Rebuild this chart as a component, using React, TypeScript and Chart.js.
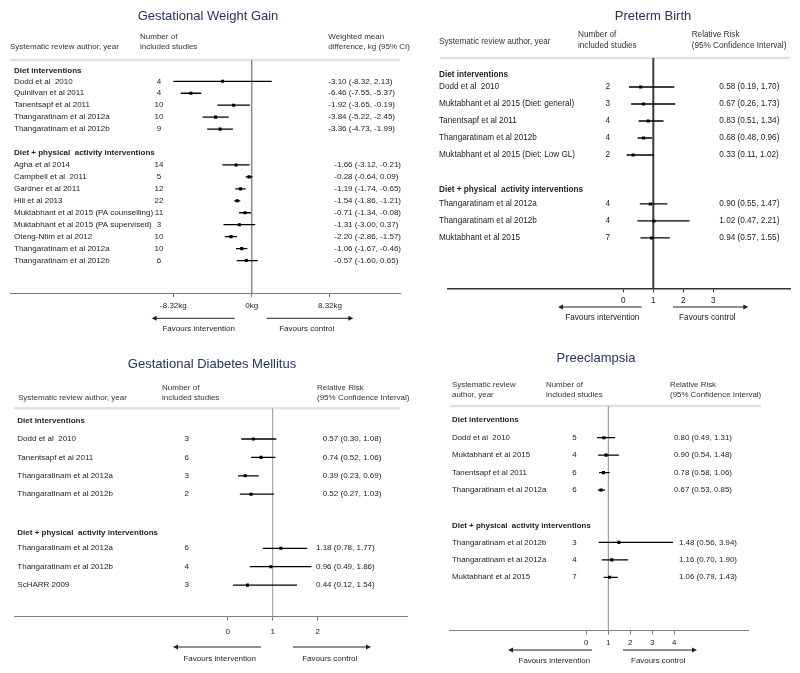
import React, { useEffect, useRef } from "react";
import { Chart, registerables } from "chart.js";

Chart.register(...registerables);

// ---------- shared labels ----------
const groupLabels = ["Diet interventions", "Diet + physical  activity interventions"];

// ---------- Gestational Weight Gain ----------
const gwgStudies = [
  "Dodd et al  2010",
  "Quinlivan et al 2011",
  "Tanentsapf et al 2011",
  "Thangaratinam et al 2012a",
  "Thangaratinam et al 2012b",
  "Agha et al 2014",
  "Campbell et al  2011",
  "Gardner et al 2011",
  "Hill et al 2013",
  "Muktabhant et al 2015 (PA counselling)",
  "Muktabhant et al 2015 (PA supervised)",
  "Oteng-Ntim et al 2012",
  "Thangaratinam et al 2012a",
  "Thangaratinam et al 2012b",
];
const gwgN = [4, 4, 10, 10, 9, 14, 5, 12, 22, 11, 3, 10, 10, 6];
const gwgEst = [-3.1, -6.46, -1.92, -3.84, -3.36, -1.66, -0.28, -1.19, -1.54, -0.71, -1.31, -2.2, -1.06, -0.57];
const gwgLo = [-8.32, -7.55, -3.65, -5.22, -4.73, -3.12, -0.64, -1.74, -1.86, -1.34, -3.0, -2.86, -1.67, -1.6];
const gwgHi = [2.13, -5.37, -0.19, -2.45, -1.99, -0.21, 0.09, -0.65, -1.21, -0.08, 0.37, -1.57, -0.46, 0.65];
const gwgGroups = [5, 9];
const gwgTicks = [-8.32, 0, 8.32];
const gwgTickLabels = ["-8.32kg", "0kg", "8.32kg"];

// ---------- Preterm Birth ----------
const ptbStudies = [
  "Dodd et al  2010",
  "Muktabhant et al 2015 (Diet: general)",
  "Tanentsapf et al 2011",
  "Thangaratinam et al 2012b",
  "Muktabhant et al 2015 (Diet: Low GL)",
  "Thangaratinam et al 2012a",
  "Thangaratinam et al 2012b",
  "Muktabhant et al 2015",
];
const ptbN = [2, 3, 4, 4, 2, 4, 4, 7];
const ptbEst = [0.58, 0.67, 0.83, 0.68, 0.33, 0.9, 1.02, 0.94];
const ptbLo = [0.19, 0.26, 0.51, 0.48, 0.11, 0.55, 0.47, 0.57];
const ptbHi = [1.7, 1.73, 1.34, 0.96, 1.02, 1.47, 2.21, 1.55];
const ptbGroups = [5, 3];
const ptbTicks = [0, 1, 2, 3];
const ptbTickLabels = ["0", "1", "2", "3"];

// ---------- Gestational Diabetes Mellitus ----------
const gdmStudies = [
  "Dodd et al  2010",
  "Tanentsapf et al 2011",
  "Thangaratinam et al 2012a",
  "Thangaratinam et al 2012b",
  "Thangaratinam et al 2012a",
  "Thangaratinam et al 2012b",
  "ScHARR 2009",
];
const gdmN = [3, 6, 3, 2, 6, 4, 3];
const gdmEst = [0.57, 0.74, 0.39, 0.52, 1.18, 0.96, 0.44];
const gdmLo = [0.3, 0.52, 0.23, 0.27, 0.78, 0.49, 0.12];
const gdmHi = [1.08, 1.06, 0.69, 1.03, 1.77, 1.86, 1.54];
const gdmGroups = [4, 3];
const gdmTicks = [0, 1, 2];
const gdmTickLabels = ["0", "1", "2"];

// ---------- Preeclampsia ----------
const peStudies = [
  "Dodd et al  2010",
  "Muktabhant et al 2015",
  "Tanentsapf et al 2011",
  "Thangaratinam et al 2012a",
  "Thangaratinam et al 2012b",
  "Thangaratinam et al 2012a",
  "Muktabhant et al 2015",
];
const peN = [5, 4, 6, 6, 3, 4, 7];
const peEst = [0.8, 0.9, 0.78, 0.67, 1.48, 1.16, 1.06];
const peLo = [0.49, 0.54, 0.58, 0.53, 0.56, 0.7, 0.79];
const peHi = [1.31, 1.48, 1.06, 0.85, 3.94, 1.9, 1.43];
const peGroups = [4, 3];
const peTicks = [0, 1, 2, 3, 4];
const peTickLabels = ["0", "1", "2", "3", "4"];

// ---------- layout / style ----------
const FONT = '"Liberation Sans", Arial, sans-serif';
const TITLE_COLOR = "#27335c";
const TEXT_COLOR = "#222";
const AXIS_H = 22;

type HeaderText = { text: string; x: number; y: number };
type Spec = {
  key: string;
  x: number; y: number; w: number; h: number;
  title: string; titleX: number; titleY: number;
  font: number;
  studies: string[]; n: number[]; est: number[]; lo: number[]; hi: number[];
  groups: number[];
  ticks: number[]; tickLabels: string[];
  refValue: number; refPx: number; ppu: number;
  areaL: number; areaR: number; areaT: number; areaB: number;
  row0: number; rowStep: number; groupGap: number; headerLead: number[];
  nameX: number; numX: number; valX: number[];
  headers: HeaderText[];
  sepL: number; sepR: number;
  axisColor: string; axisWidth: number; refColor: string; refWidth: number;
  tickPad: number;
  arrowY: number; arrowL: [number, number]; arrowR: [number, number];
  favY: number; favL: number; favR: number;
};

const specs: Spec[] = [
  {
    key: "gwg", x: 0, y: 0, w: 420, h: 340,
    title: "Gestational Weight Gain", titleX: 208, titleY: 16,
    font: 8,
    studies: gwgStudies, n: gwgN, est: gwgEst, lo: gwgLo, hi: gwgHi, groups: gwgGroups,
    ticks: gwgTicks, tickLabels: gwgTickLabels,
    refValue: 0, refPx: 251.7, ppu: 9.41,
    areaL: 10, areaR: 400, areaT: 60, areaB: 293.3,
    row0: 81.3, rowStep: 11.95, groupGap: 2, headerLead: [0.88, 0.98],
    nameX: 14, numX: 159, valX: [328.3, 334.3],
    headers: [
      { text: "Systematic review author, year", x: 10, y: 46.7 },
      { text: "Number of", x: 140, y: 36.7 },
      { text: "included studies", x: 140, y: 46.7 },
      { text: "Weighted mean", x: 328.3, y: 36.7 },
      { text: "difference, kg (95% CI)", x: 328.3, y: 46.7 },
    ],
    sepL: 10, sepR: 400,
    axisColor: "#7a7a7a", axisWidth: 1, refColor: "#8a8a8a", refWidth: 1.5,
    tickPad: 4,
    arrowY: 318.3, arrowL: [-17, -100], arrowR: [15, 101.6],
    favY: 329, favL: -53, favR: 55,
  },
  {
    key: "ptb", x: 400, y: 0, w: 400, h: 340,
    title: "Preterm Birth", titleX: 253, titleY: 16,
    font: 8.2,
    studies: ptbStudies, n: ptbN, est: ptbEst, lo: ptbLo, hi: ptbHi, groups: ptbGroups,
    ticks: ptbTicks, tickLabels: ptbTickLabels,
    refValue: 1, refPx: 253.3, ppu: 30,
    areaL: 48, areaR: 390, areaT: 58, areaB: 288.3,
    row0: 87, rowStep: 17, groupGap: 1.88, headerLead: [0.7, 0.84],
    nameX: 39, numX: 207.7, valX: [319.3, 319.3],
    headers: [
      { text: "Systematic review author, year", x: 39, y: 41.7 },
      { text: "Number of", x: 178, y: 34.3 },
      { text: "included studies", x: 178, y: 46 },
      { text: "Relative Risk", x: 291.7, y: 34.3 },
      { text: "(95% Confidence Interval)", x: 291.7, y: 46 },
    ],
    sepL: 40, sepR: 390,
    axisColor: "#333", axisWidth: 1.5, refColor: "#3a3a3a", refWidth: 2,
    tickPad: 4,
    arrowY: 307, arrowL: [-11.6, -95.3], arrowR: [19.7, 95],
    favY: 318, favL: -51, favR: 54,
  },
  {
    key: "gdm", x: 0, y: 340, w: 420, h: 333,
    title: "Gestational Diabetes Mellitus", titleX: 212, titleY: 24,
    font: 8,
    studies: gdmStudies, n: gdmN, est: gdmEst, lo: gdmLo, hi: gdmHi, groups: gdmGroups,
    ticks: gdmTicks, tickLabels: gdmTickLabels,
    refValue: 1, refPx: 272.7, ppu: 45,
    areaL: 14, areaR: 407, areaT: 68.3, areaB: 276.7,
    row0: 99, rowStep: 18.4, groupGap: 1.94, headerLead: [0.98, 0.82],
    nameX: 17.3, numX: 186.7, valX: [322.7, 316],
    headers: [
      { text: "Systematic review author, year", x: 18, y: 57.3 },
      { text: "Number of", x: 162, y: 47.7 },
      { text: "included studies", x: 162, y: 58 },
      { text: "Relative Risk", x: 317, y: 47.7 },
      { text: "(95% Confidence Interval)", x: 317, y: 58 },
    ],
    sepL: 14, sepR: 400,
    axisColor: "#808080", axisWidth: 1, refColor: "#939393", refWidth: 1,
    tickPad: 6,
    arrowY: 307, arrowL: [-11.7, -99.7], arrowR: [20.3, 98.3],
    favY: 319, favL: -53, favR: 57,
  },
  {
    key: "pe", x: 400, y: 340, w: 400, h: 333,
    title: "Preeclampsia", titleX: 196, titleY: 18,
    font: 7.9,
    studies: peStudies, n: peN, est: peEst, lo: peLo, hi: peHi, groups: peGroups,
    ticks: peTicks, tickLabels: peTickLabels,
    refValue: 1, refPx: 208.3, ppu: 22,
    areaL: 49, areaR: 348, areaT: 66, areaB: 290.7,
    row0: 97.7, rowStep: 17.45, groupGap: 2, headerLead: [1.0, 0.97],
    nameX: 52, numX: 174.5, valX: [274, 279],
    headers: [
      { text: "Systematic review", x: 52, y: 45 },
      { text: "author, year", x: 52, y: 55 },
      { text: "Number of", x: 146, y: 45 },
      { text: "included studies", x: 146, y: 55 },
      { text: "Relative Risk", x: 270, y: 45 },
      { text: "(95% Confidence Interval)", x: 270, y: 55 },
    ],
    sepL: 50, sepR: 361,
    axisColor: "#808080", axisWidth: 1, refColor: "#8a8a8a", refWidth: 1,
    tickPad: 3,
    arrowY: 310, arrowL: [-16.3, -100.3], arrowR: [14.7, 88.7],
    favY: 321, favL: -54, favR: 50,
  },
];

function rowPositions(groups: number[], gap: number): number[] {
  const pos: number[] = [];
  let idx = 0;
  groups.forEach((g, gi) => {
    for (let k = 0; k < g; k++) pos.push(idx + k + gi * gap);
    idx += g;
  });
  return pos;
}

const fmt = (v: number) => v.toFixed(2);
const font = (size: number, bold = false) => `${bold ? "bold " : ""}${size}px ${FONT}`;

function drawArrow(ctx: CanvasRenderingContext2D, x1: number, x2: number, y: number) {
  const dir = Math.sign(x2 - x1);
  ctx.beginPath();
  ctx.moveTo(x1, y);
  ctx.lineTo(x2 - dir * 4, y);
  ctx.stroke();
  ctx.beginPath();
  ctx.moveTo(x2, y);
  ctx.lineTo(x2 - dir * 5, y - 2.5);
  ctx.lineTo(x2 - dir * 5, y + 2.5);
  ctx.closePath();
  ctx.fill();
}

function buildChart(canvas: HTMLCanvasElement, s: Spec) {
  const rows = rowPositions(s.groups, s.groupGap);
  const xMin = s.refValue - (s.refPx - s.areaL) / s.ppu;
  const xMax = s.refValue + (s.areaR - s.refPx) / s.ppu;
  const yMin = -(s.row0 - s.areaT) / s.rowStep;
  const yMax = yMin + (s.areaB - s.areaT) / s.rowStep;

  const pointDs = {
    label: "estimate",
    data: s.est.map((v, i) => ({ x: v, y: rows[i] })),
    pointStyle: "rect",
    pointRadius: 2.2,
    backgroundColor: "#000",
    borderColor: "#000",
    borderWidth: 0,
    showLine: false,
  };
  const ciDs = s.lo.map((lo, i) => ({
    label: "ci" + i,
    data: [
      { x: lo, y: rows[i] },
      { x: s.hi[i], y: rows[i] },
    ],
    showLine: true,
    borderColor: "#000",
    borderWidth: 1.3,
    pointRadius: 0,
  }));

  const overlay = {
    id: "forestOverlay",
    beforeDatasetsDraw(chart: any) {
      const { ctx, chartArea } = chart;
      const xs = chart.scales.x;
      ctx.save();
      ctx.strokeStyle = "#e2e2e2";
      ctx.lineWidth = 2.5;
      ctx.beginPath();
      ctx.moveTo(s.sepL, chartArea.top);
      ctx.lineTo(s.sepR, chartArea.top);
      ctx.stroke();
      const px = xs.getPixelForValue(s.refValue);
      ctx.strokeStyle = s.refColor;
      ctx.lineWidth = s.refWidth;
      ctx.beginPath();
      ctx.moveTo(px, chartArea.top);
      ctx.lineTo(px, chartArea.bottom);
      ctx.stroke();
      ctx.restore();
    },
    afterDraw(chart: any) {
      const { ctx } = chart;
      const xs = chart.scales.x;
      const ys = chart.scales.y;
      const refPx = xs.getPixelForValue(s.refValue);
      ctx.save();
      ctx.textBaseline = "middle";
      // title
      ctx.fillStyle = TITLE_COLOR;
      ctx.font = font(13);
      ctx.textAlign = "center";
      ctx.fillText(s.title, s.titleX, s.titleY);
      // column headers
      ctx.fillStyle = "#333";
      ctx.font = font(s.font);
      ctx.textAlign = "left";
      s.headers.forEach((h) => ctx.fillText(h.text, h.x, h.y));
      // group headers and rows
      let start = 0;
      s.groups.forEach((g, gi) => {
        const y = ys.getPixelForValue(rows[start] - s.headerLead[gi]);
        ctx.fillStyle = TEXT_COLOR;
        ctx.font = font(s.font, true);
        ctx.textAlign = "left";
        ctx.fillText(groupLabels[gi], s.nameX, y);
        ctx.font = font(s.font);
        for (let k = start; k < start + g; k++) {
          const ry = ys.getPixelForValue(rows[k]);
          ctx.textAlign = "left";
          ctx.fillText(s.studies[k], s.nameX, ry);
          ctx.textAlign = "center";
          ctx.fillText(String(s.n[k]), s.numX, ry);
          ctx.textAlign = "left";
          ctx.fillText(`${fmt(s.est[k])} (${fmt(s.lo[k])}, ${fmt(s.hi[k])})`, s.valX[gi], ry);
        }
        start += g;
      });
      // arrows
      ctx.strokeStyle = "#222";
      ctx.fillStyle = "#222";
      ctx.lineWidth = 1;
      drawArrow(ctx, refPx + s.arrowL[0], refPx + s.arrowL[1], s.arrowY);
      drawArrow(ctx, refPx + s.arrowR[0], refPx + s.arrowR[1], s.arrowY);
      ctx.fillStyle = TEXT_COLOR;
      ctx.font = font(s.font);
      ctx.textAlign = "center";
      ctx.fillText("Favours intervention", refPx + s.favL, s.favY);
      ctx.fillText("Favours control", refPx + s.favR, s.favY);
      ctx.restore();
    },
  };

  return new Chart(canvas, {
    type: "scatter",
    data: { datasets: [pointDs, ...ciDs] as any },
    options: {
      responsive: false,
      maintainAspectRatio: false,
      animation: false,
      devicePixelRatio: 1,
      layout: {
        padding: {
          left: s.areaL,
          right: s.w - s.areaR,
          top: s.areaT,
          bottom: s.h - s.areaB - AXIS_H,
        },
      },
      scales: {
        x: {
          type: "linear",
          position: "bottom",
          min: xMin,
          max: xMax,
          afterBuildTicks: (scale: any) => {
            scale.ticks = s.ticks.map((v) => ({ value: v }));
          },
          afterFit: (scale: any) => {
            scale.height = AXIS_H;
          },
          ticks: {
            autoSkip: false,
            maxRotation: 0,
            minRotation: 0,
            padding: s.tickPad,
            color: TEXT_COLOR,
            font: { family: FONT, size: s.font },
            callback: (_v: any, i: number) => s.tickLabels[i],
          },
          grid: {
            drawOnChartArea: false,
            drawTicks: true,
            tickLength: 4,
            color: s.axisColor,
            lineWidth: 1,
          },
          border: { display: true, color: s.axisColor, width: s.axisWidth },
        },
        y: {
          type: "linear",
          display: false,
          reverse: true,
          min: yMin,
          max: yMax,
        },
      },
      plugins: {
        legend: { display: false },
        tooltip: { enabled: false },
        title: { display: false },
      },
    } as any,
    plugins: [overlay],
  });
}

function Panel({ spec }: { spec: Spec }) {
  const ref = useRef<HTMLCanvasElement>(null);
  useEffect(() => {
    if (!ref.current) return;
    const chart = buildChart(ref.current, spec);
    return () => chart.destroy();
  }, [spec]);
  return (
    <canvas
      ref={ref}
      width={spec.w}
      height={spec.h}
      style={{ position: "absolute", left: spec.x, top: spec.y, width: spec.w, height: spec.h }}
    />
  );
}

export default function App() {
  return (
    <div
      style={{
        position: "absolute",
        left: 0,
        top: 0,
        width: 800,
        height: 673,
        background: "#fff",
        overflow: "hidden",
      }}
    >
      {specs.map((s) => (
        <Panel key={s.key} spec={s} />
      ))}
    </div>
  );
}
